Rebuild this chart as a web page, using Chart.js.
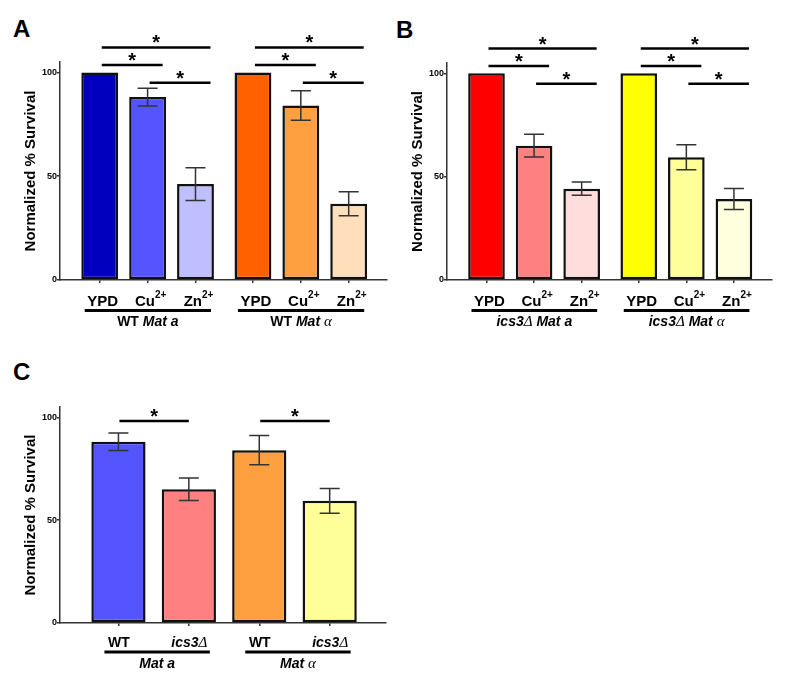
<!DOCTYPE html>
<html>
<head>
<meta charset="utf-8">
<script src="https://cdn.jsdelivr.net/npm/chart.js@4.4.0/dist/chart.umd.min.js"></script>
<style>
  body { margin: 0; background: #fff; width: 791px; height: 684px; position: relative; overflow: hidden; }
  canvas { position: absolute; }
  .letter { position: absolute; font: bold 24px "Liberation Sans", Arial, sans-serif; line-height: 24px; color: #000; }
</style>
</head>
<body>
<div class="letter" style="left:13px;top:17px">A</div>
<div class="letter" style="left:396px;top:18px">B</div>
<div class="letter" style="left:13px;top:360px">C</div>
<canvas id="chartA" width="395" height="340" style="left:0;top:0"></canvas>
<canvas id="chartB" width="395" height="340" style="left:387px;top:0"></canvas>
<canvas id="chartC" width="395" height="340" style="left:0;top:343px"></canvas>
<script>
const SANS = '"Liberation Sans", Arial, sans-serif';
const SERIF = '"Liberation Serif", "DejaVu Serif", serif';

// panel A - wild type
const conditions = ['YPD', 'Cu²⁺', 'Zn²⁺'];
const wtGroups = ['WT Mat a', 'WT Mat α'];
const wtMean = [100, 88.1, 46.2, 100, 84.0, 36.7];
const wtErr = [0, 4.3, 7.9, 0, 7.1, 5.8];
const wtColors = ['#0000be', '#5555ff', '#bfbfff', '#ff6000', '#ffa040', '#ffdebc'];

// panel B - ics3 deletion
const ics3Groups = ['ics3Δ Mat a', 'ics3Δ Mat α'];
const ics3Mean = [100, 65.0, 44.2, 100, 59.4, 39.2];
const ics3Err = [0, 5.5, 3.2, 0, 6.0, 5.1];
const ics3Colors = ['#ff0000', '#ff8080', '#ffdddd', '#ffff00', '#ffff99', '#ffffdd'];

// panel C - copper only, WT vs ics3
const strains = ['WT', 'ics3Δ'];
const matingTypes = ['Mat a', 'Mat α'];
const cuMean = [88.1, 65.0, 84.0, 59.4];
const cuErr = [4.3, 5.5, 7.1, 6.0];
const cuColors = ['#5555ff', '#ff8080', '#ffa040', '#ffff99'];

// significance brackets: [from bar, to bar, tier]
const sigAB = [[0, 2, 2], [0, 1, 1], [1, 2, 0], [3, 5, 2], [3, 4, 1], [4, 5, 0]];
const sigC = [[0, 1, 0], [2, 3, 0]];

const SUP = { '²': '2', '⁺': '+' };
const UPRIGHT = ['WT', 'YPD', 'Cu²⁺', 'Zn²⁺'];

function richRuns(text, size) {
  const runs = [];
  const push = (t, font, dy) => {
    const last = runs[runs.length - 1];
    if (last && last.font === font && last.dy === dy) last.t += t;
    else runs.push({ t, font, dy });
  };
  text.split(' ').forEach((word, w) => {
    const italic = !UPRIGHT.includes(word);
    if (w > 0) push(' ', `bold ${size}px ${SANS}`, 0);
    for (const ch of word) {
      if (SUP[ch]) push(SUP[ch], `bold ${Math.round(size * 0.66)}px ${SANS}`, -Math.round(size * 0.56));
      else if (/[αΔ]/.test(ch)) push(ch, `italic ${size + 1}px ${SERIF}`, 0);
      else push(ch, `${italic ? 'italic ' : ''}bold ${size}px ${SANS}`, 0);
    }
  });
  return runs;
}

function drawRich(ctx, text, cx, y, size) {
  const runs = richRuns(text, size);
  let w = 0;
  runs.forEach(r => { ctx.font = r.font; r.w = ctx.measureText(r.t).width; w += r.w; });
  let x = cx - w / 2;
  ctx.textAlign = 'left';
  ctx.textBaseline = 'alphabetic';
  runs.forEach(r => { ctx.font = r.font; ctx.fillText(r.t, x, y + r.dy); x += r.w; });
}

const figurePlugin = {
  id: 'figure',
  afterDatasetsDraw(chart, args, o) {
    const { ctx, scales: { x, y } } = chart;
    const data = chart.data.datasets[0].data;
    const px = i => x.getPixelForValue(data[i].x);
    ctx.save();
    // error bars
    ctx.strokeStyle = '#333';
    ctx.lineWidth = 1.5;
    o.err.forEach((e, i) => {
      if (!e) return;
      const top = y.getPixelForValue(data[i].y + e);
      const bot = y.getPixelForValue(data[i].y - e);
      const c = px(i);
      ctx.beginPath();
      ctx.moveTo(c, top); ctx.lineTo(c, bot);
      ctx.moveTo(c - 10, top); ctx.lineTo(c + 10, top);
      ctx.moveTo(c - 10, bot); ctx.lineTo(c + 10, bot);
      ctx.stroke();
    });
    // significance
    ctx.strokeStyle = '#000';
    ctx.fillStyle = '#000';
    ctx.lineWidth = 2.5;
    o.sig.forEach(([a, b, tier]) => {
      const ly = y.getPixelForValue(o.sigBase + tier * 8.5);
      const x1 = px(a) + o.sigPad[0], x2 = px(b) + o.sigPad[1];
      ctx.beginPath();
      ctx.moveTo(x1, ly); ctx.lineTo(x2, ly);
      ctx.stroke();
      ctx.font = `bold 20px ${SANS}`;
      ctx.textAlign = 'center';
      ctx.textBaseline = 'alphabetic';
      ctx.fillText('*', (x1 + x2) / 2, ly + 2);
    });
    // tick labels, group lines, group labels
    const bottom = chart.chartArea.bottom;
    const n = o.ticks.length;
    data.forEach((d, i) => drawRich(ctx, o.ticks[i % n], px(i) + o.tickShift, bottom + o.tickY, o.tickSize));
    ctx.lineWidth = 3;
    o.groups.forEach((g, gi) => {
      const x1 = px(gi * n) + o.linePad[0], x2 = px(gi * n + n - 1) + o.linePad[1];
      const ly = bottom + o.lineY;
      ctx.beginPath();
      ctx.moveTo(x1, ly); ctx.lineTo(x2, ly);
      ctx.stroke();
      drawRich(ctx, g, (x1 + x2) / 2, bottom + o.groupY, 14);
    });
    ctx.restore();
  }
};

function buildPanel(id, p) {
  const n = p.ticks.length;
  const pos = p.groups.flatMap((g, gi) => p.ticks.map((t, i) => gi * (n + p.groupGap) + i));
  new Chart(document.getElementById(id), {
    type: 'bar',
    data: {
      datasets: [{
        data: pos.map((x, i) => ({ x, y: p.mean[i] })),
        backgroundColor: p.colors,
        borderColor: '#111',
        borderWidth: 2.5,
        borderSkipped: false,
        barPercentage: 0.77,
        categoryPercentage: 1
      }]
    },
    options: {
      responsive: false,
      animation: false,
      layout: { padding: { top: p.top, right: p.right, left: 0, bottom: 0 } },
      plugins: {
        legend: { display: false },
        tooltip: { enabled: false },
        figure: p
      },
      scales: {
        x: {
          type: 'linear',
          min: -0.83,
          max: pos[pos.length - 1] + 0.8,
          offset: false,
          afterBuildTicks: s => { s.ticks = pos.map(v => ({ value: v })); },
          ticks: { display: false },
          grid: { drawOnChartArea: false, drawTicks: true, tickLength: 3, color: '#333', lineWidth: 1.5, offset: false },
          border: { color: '#333', width: 1.5 },
          afterFit: s => { s.height = 60; }
        },
        y: {
          min: 0,
          max: 105,
          ticks: { stepSize: 50, includeBounds: false, padding: 0, color: '#000', font: { family: SANS, size: 9, weight: 'bold' } },
          grid: { drawOnChartArea: false, drawTicks: true, tickLength: 3, color: '#333', lineWidth: 1.5 },
          border: { color: '#333', width: 1.5 },
          title: {
            display: true,
            text: 'Normalized % Survival',
            color: '#000',
            font: { family: SANS, size: 15, weight: 'bold' },
            padding: { top: 22, bottom: 0 }
          },
          afterFit: s => { s.width = 60; }
        }
      }
    },
    plugins: [figurePlugin]
  });
}

const abLayout = { groupGap: 0.2, sig: sigAB, sigBase: 95, sigPad: [2, 15], tickShift: 3, tickSize: 15, tickY: 26, lineY: 30.5, groupY: 46, linePad: [-15, 15.5] };

buildPanel('chartA', Object.assign({}, abLayout, {
  ticks: conditions, groups: wtGroups, mean: wtMean, err: wtErr, colors: wtColors, top: 62, right: 8
}));
buildPanel('chartB', Object.assign({}, abLayout, {
  ticks: conditions, groups: ics3Groups, mean: ics3Mean, err: ics3Err, colors: ics3Colors, top: 63, right: 10
}));
buildPanel('chartC', {
  ticks: strains, groups: matingTypes, mean: cuMean, err: cuErr, colors: cuColors, top: 64, right: 9,
  groupGap: 0, sig: sigC, sigBase: 98.2, sigPad: [1, 0], tickShift: 0.5, tickSize: 14, tickY: 24, lineY: 29, groupY: 45, linePad: [-14, 21]
});
</script>
</body>
</html>
